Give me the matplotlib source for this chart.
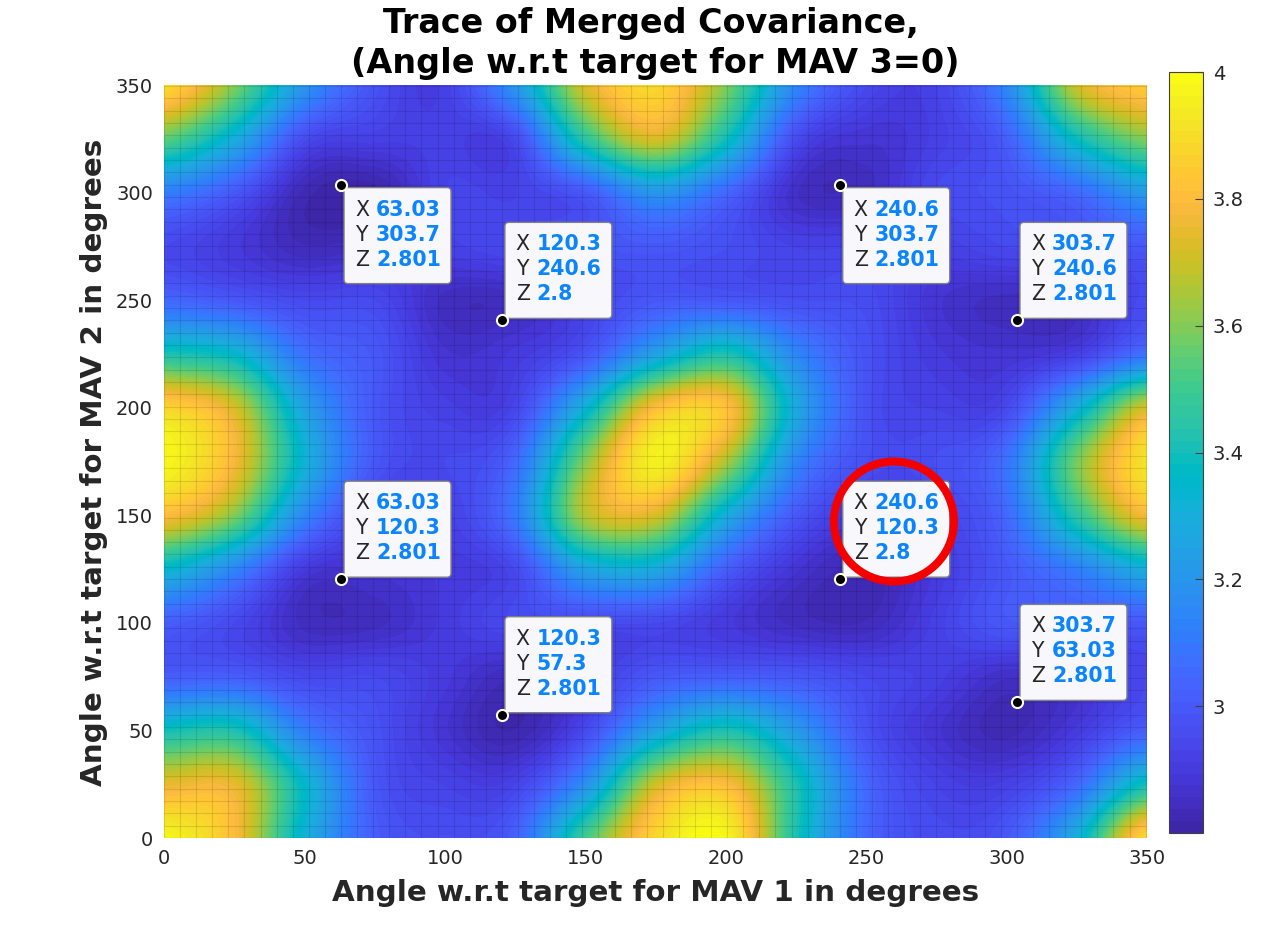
import numpy as np
import matplotlib
matplotlib.use("Agg")
import matplotlib.pyplot as plt
from matplotlib.colors import ListedColormap
from matplotlib.patches import Ellipse, FancyBboxPatch

# trace values on a 25 degree grid, rows run from MAV 2 = 0 upwards
mav1_angles = [0, 25, 50, 75, 100, 125, 150, 175, 200, 225, 250, 275, 300, 325, 350]
mav2_angles = [0, 25, 50, 75, 100, 125, 150, 175, 200, 225, 250, 275, 300, 325, 350]
trace_rows = [
    [3.98, 3.80, 3.32, 3.02, 2.97, 3.03, 3.50, 3.88, 3.98, 3.42, 3.05, 2.96, 3.00, 3.30, 3.90],
    [3.75, 3.75, 3.35, 3.00, 2.93, 2.93, 3.18, 3.70, 3.80, 3.42, 3.05, 2.93, 2.92, 3.05, 3.40],
    [3.40, 3.42, 3.12, 2.98, 2.88, 2.82, 2.95, 3.25, 3.42, 3.22, 2.98, 2.88, 2.83, 2.90, 3.02],
    [3.02, 3.02, 2.95, 2.95, 2.90, 2.84, 2.90, 3.00, 3.02, 3.00, 2.95, 2.92, 2.86, 2.88, 2.95],
    [3.02, 2.95, 2.85, 2.85, 2.90, 2.95, 2.95, 2.95, 2.90, 2.85, 2.84, 2.92, 3.00, 3.00, 3.00],
    [3.35, 3.15, 2.90, 2.88, 2.90, 2.95, 3.25, 3.28, 3.02, 2.88, 2.83, 2.90, 3.00, 3.12, 3.30],
    [3.80, 3.60, 3.15, 2.92, 2.92, 3.10, 3.66, 3.72, 3.30, 3.00, 2.90, 2.93, 3.05, 3.45, 3.78],
    [3.98, 3.78, 3.32, 3.00, 2.95, 3.05, 3.60, 3.96, 3.66, 3.15, 2.97, 2.97, 3.08, 3.58, 3.92],
    [3.88, 3.72, 3.25, 3.00, 2.92, 2.94, 3.32, 3.80, 3.82, 3.28, 2.98, 2.93, 2.95, 3.30, 3.72],
    [3.42, 3.35, 3.08, 3.00, 2.88, 2.90, 2.99, 3.25, 3.42, 3.15, 2.98, 2.90, 2.88, 2.92, 3.08],
    [3.05, 3.00, 2.95, 2.95, 2.85, 2.85, 2.93, 3.00, 3.00, 2.97, 2.96, 2.88, 2.85, 2.86, 2.96],
    [2.95, 2.90, 2.84, 2.86, 2.92, 2.95, 2.98, 3.00, 2.97, 2.93, 2.93, 2.92, 2.95, 2.97, 3.00],
    [3.12, 3.00, 2.83, 2.81, 2.93, 2.93, 3.00, 3.20, 3.05, 2.86, 2.85, 2.95, 2.98, 3.05, 3.22],
    [3.55, 3.30, 2.96, 2.92, 2.92, 2.95, 3.45, 3.72, 3.40, 2.96, 2.88, 2.92, 3.02, 3.38, 3.60],
    [3.90, 3.60, 3.20, 2.98, 2.92, 3.20, 3.72, 3.88, 3.60, 3.15, 2.95, 2.93, 3.15, 3.70, 3.85],
]

# data tips: x, y, z text and where the box sits relative to the point
tip_x = ["63.03", "120.3", "240.6", "303.7", "63.03", "120.3", "240.6", "303.7"]
tip_y = ["303.7", "240.6", "303.7", "240.6", "120.3", "57.3", "120.3", "63.03"]
tip_z = ["2.801", "2.8", "2.801", "2.801", "2.801", "2.801", "2.8", "2.801"]
tip_above = [False, True, False, True, True, True, True, True]

ticks = [0, 50, 100, 150, 200, 250, 300, 350]
cbar_ticks = [3, 3.2, 3.4, 3.6, 3.8, 4]
cbar_labels = ["3", "3.2", "3.4", "3.6", "3.8", "4"]

parula = ListedColormap([
    (0.2422, 0.1504, 0.6603), (0.2504, 0.1650, 0.7076), (0.2578, 0.1818, 0.7511), (0.2647, 0.1978, 0.7952),
    (0.2706, 0.2147, 0.8364), (0.2751, 0.2342, 0.8710), (0.2783, 0.2559, 0.8991), (0.2803, 0.2782, 0.9221),
    (0.2813, 0.3006, 0.9414), (0.2810, 0.3228, 0.9579), (0.2795, 0.3447, 0.9717), (0.2760, 0.3667, 0.9829),
    (0.2699, 0.3892, 0.9906), (0.2602, 0.4123, 0.9952), (0.2440, 0.4358, 0.9988), (0.2206, 0.4603, 0.9973),
    (0.1963, 0.4847, 0.9892), (0.1834, 0.5074, 0.9798), (0.1786, 0.5289, 0.9682), (0.1764, 0.5499, 0.9520),
    (0.1687, 0.5703, 0.9359), (0.1540, 0.5902, 0.9218), (0.1460, 0.6091, 0.9079), (0.1380, 0.6276, 0.8973),
    (0.1248, 0.6459, 0.8883), (0.1113, 0.6635, 0.8763), (0.0952, 0.6798, 0.8598), (0.0689, 0.6948, 0.8394),
    (0.0297, 0.7082, 0.8163), (0.0036, 0.7203, 0.7917), (0.0067, 0.7312, 0.7660), (0.0433, 0.7411, 0.7394),
    (0.0964, 0.7500, 0.7120), (0.1408, 0.7584, 0.6842), (0.1717, 0.7670, 0.6554), (0.1938, 0.7758, 0.6251),
    (0.2161, 0.7843, 0.5923), (0.2470, 0.7918, 0.5567), (0.2906, 0.7973, 0.5188), (0.3406, 0.8008, 0.4789),
    (0.3909, 0.8029, 0.4354), (0.4456, 0.8024, 0.3909), (0.5044, 0.7993, 0.3480), (0.5616, 0.7942, 0.3045),
    (0.6174, 0.7876, 0.2612), (0.6720, 0.7793, 0.2227), (0.7242, 0.7698, 0.1910), (0.7738, 0.7598, 0.1646),
    (0.8203, 0.7498, 0.1535), (0.8634, 0.7406, 0.1596), (0.9035, 0.7330, 0.1774), (0.9393, 0.7288, 0.2100),
    (0.9728, 0.7298, 0.2394), (0.9956, 0.7434, 0.2371), (0.9970, 0.7659, 0.2199), (0.9952, 0.7861, 0.1990),
    (0.9892, 0.8135, 0.1884), (0.9786, 0.8386, 0.1766), (0.9676, 0.8639, 0.1643), (0.9610, 0.8890, 0.1537),
    (0.9597, 0.9135, 0.1423), (0.9628, 0.9373, 0.1265), (0.9691, 0.9606, 0.1064), (0.9769, 0.9839, 0.0805),
])

W, H = 1269, 942
TEXT = "#262626"
BLUE = "#0a84ff"


def px_rect(left, top, right, bottom):
    return [left / W, 1 - bottom / H, (right - left) / W, (bottom - top) / H]


fig = plt.figure(figsize=(W / 100, H / 100), dpi=100)
ax = fig.add_axes(px_rect(164, 85, 1147, 838))

step = mav1_angles[1] - mav1_angles[0]
im = ax.imshow(trace_rows, origin="lower", aspect="auto", cmap=parula, vmin=2.8, vmax=4,
               interpolation="catrom",
               extent=(mav1_angles[0] - step / 2, mav1_angles[-1] + step / 2,
                       mav2_angles[0] - step / 2, mav2_angles[-1] + step / 2))

# surface mesh lines, 0.1 rad apart
mesh = np.arange(0, 350, np.degrees(0.1))
ax.vlines(mesh, 0, 350, color="black", alpha=0.11, lw=0.8)
ax.hlines(mesh, 0, 350, color="black", alpha=0.11, lw=0.8)

ax.set_xlim(0, 350)
ax.set_ylim(0, 350)
ax.set_xticks(ticks)
ax.set_yticks(ticks)
ax.tick_params(length=0, labelsize=14, labelcolor=TEXT, pad=8)
for spine in ax.spines.values():
    spine.set_visible(False)

# box size and text rows, converted from pixels to degrees
sx = 983 / 350
sy = 753 / 350
box_w, box_h = 107 / sx, 96 / sy
for xs, ys, zs, above in zip(tip_x, tip_y, tip_z, tip_above):
    x, y = float(xs), float(ys)
    left = x + 3 / sx
    top = y + (2 + 96) / sy if above else y - 3 / sy
    ax.add_patch(FancyBboxPatch((left, top - box_h), box_w, box_h,
                                boxstyle=f"round,pad=0,rounding_size={4 / sx}",
                                mutation_aspect=sx / sy, fc="#f8f8fc", ec="#808080", lw=1, zorder=4))
    for row, (name, val) in enumerate(zip("XYZ", (xs, ys, zs))):
        ry = top - (22 + 25 * row) / sy
        ax.text(left + 11 / sx, ry, name, color=TEXT, fontsize=14.8, va="center", zorder=5)
        ax.text(left + 32 / sx, ry, val, color=BLUE, fontsize=14.8, fontweight="bold", va="center", zorder=5)
    ax.plot([x], [y], "o", ms=8, mfc="black", mec="#fffff0", mew=1.5, zorder=6, clip_on=False)

# highlighted optimum
ax.add_patch(Ellipse((259.9, 147.1), 120 / sx, 120 / sy, fc="none", ec="#f50000", lw=5.8, zorder=7))

cax = fig.add_axes(px_rect(1169, 72, 1203, 833))
cb = fig.colorbar(im, cax=cax)
cb.set_ticks(cbar_ticks)
cb.set_ticklabels(cbar_labels)
cb.ax.tick_params(direction="in", length=6, width=0.8, color="#404040", labelsize=14, labelcolor=TEXT, pad=7)
cb.outline.set_edgecolor("#404040")
cb.outline.set_linewidth(0.8)

fig.text(650.5 / W, 1 - 24 / H, "Trace of Merged Covariance,", fontsize=24, fontweight="bold",
         color="black", ha="center", va="center")
fig.text(655.5 / W, 1 - 64 / H, "(Angle w.r.t target for MAV 3=0)", fontsize=24.1, fontweight="bold",
         color="black", ha="center", va="center")
fig.text(656 / W, 1 - 893 / H, "Angle w.r.t target for MAV 1 in degrees", fontsize=21.2, fontweight="bold",
         color=TEXT, ha="center", va="center")
fig.text(94 / W, 1 - 462 / H, "Angle w.r.t target for MAV 2 in degrees", fontsize=21.2, fontweight="bold",
         color=TEXT, ha="center", va="center", rotation=90)

fig.savefig("out.png", dpi=100)
